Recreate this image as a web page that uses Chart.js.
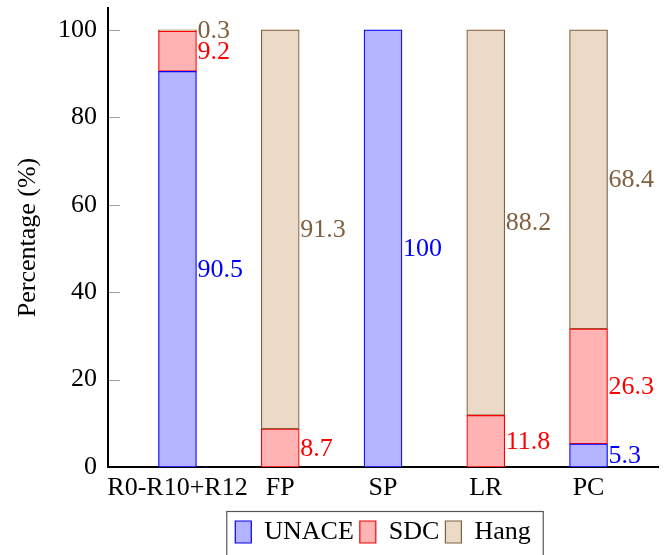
<!DOCTYPE html>
<html>
<head>
<meta charset="utf-8">
<script src="https://cdn.jsdelivr.net/npm/chart.js@4"></script>
<style>
html,body{margin:0;padding:0;background:#fff;}
#wrap{width:672px;height:555px;}
</style>
</head>
<body>
<div id="wrap"><canvas id="c" width="672" height="555"></canvas></div>
<script>
const categories = ["R0-R10+R12", "FP", "SP", "LR", "PC"];
const unace = [90.5, 0, 100, 0, 5.3];
const sdc = [9.2, 8.7, 0, 11.8, 26.3];
const hang = [0.3, 91.3, 0, 88.2, 68.4];
const yTicks = [0, 20, 40, 60, 80, 100];

const FONT = "'Liberation Serif', 'Times New Roman', serif";
const FS = 26;

function pts(arr){ return arr.map((v,i)=>({x:i, y: v===0 ? null : v})); }

const series = [
  {label:"UNACE", data:unace, fill:"#b3b3ff", stroke:"#0000ff", text:"#0000ff"},
  {label:"SDC", data:sdc, fill:"#ffb3b3", stroke:"#ff0000", text:"#ff0000"},
  {label:"Hang", data:hang, fill:"#ebdac7", stroke:"#80603f", text:"#80603f"}
];

const valueLabels = {
  id:'valueLabels',
  afterDatasetsDraw(chart){
    const ctx = chart.ctx;
    ctx.save();
    ctx.font = FS + "px " + FONT;
    ctx.textAlign = 'left';
    ctx.textBaseline = 'middle';
    chart.data.datasets.forEach((ds, di)=>{
      const meta = chart.getDatasetMeta(di);
      meta.data.forEach((el, i)=>{
        const v = series[di].data[i];
        if (!v) return;
        ctx.fillStyle = series[di].text;
        ctx.fillText(String(v), el.x + el.width/2 + 1, (el.y + el.base)/2 + 1);
      });
    });
    ctx.restore();
  }
};

const innerTicks = {
  id:'innerTicks',
  afterDraw(chart){
    const ctx = chart.ctx, y = chart.scales.y, a = chart.chartArea;
    ctx.save();
    ctx.strokeStyle = '#a0a0a0';
    ctx.lineWidth = 1;
    yTicks.forEach(t=>{
      const py = Math.round(y.getPixelForValue(t)) + 0.5;
      if (t === 0) return;
      ctx.beginPath(); ctx.moveTo(a.left+1, py); ctx.lineTo(a.left+12, py); ctx.stroke();
    });
    const lg = chart.legend;
    if (lg && lg.legendHitBoxes && lg.legendHitBoxes.length){
      const hb = lg.legendHitBoxes;
      const l = Math.min(...hb.map(h=>h.left)) - 9;
      const r = Math.max(...hb.map(h=>h.left + h.width)) + 12;
      const t = Math.min(...hb.map(h=>h.top)) - 8;
      ctx.strokeStyle = '#555';
      ctx.lineWidth = 1.2;
      ctx.strokeRect(l + 0.5, t + 0.5, r - l, 80);
    }
    ctx.restore();
  }
};

new Chart(document.getElementById('c'), {
  type:'bar',
  data:{
    datasets: series.map(s=>({
      label:s.label,
      data:pts(s.data),
      backgroundColor:s.fill,
      borderColor:s.stroke,
      borderWidth:1.2,
      borderSkipped:false,
      barThickness:38
    }))
  },
  options:{
    responsive:false,
    animation:false,
    devicePixelRatio:1,
    layout:{padding:{left:0, right:14, top:8, bottom:0}},
    scales:{
      x:{
        type:'linear', stacked:true, min:-0.676, max:4.676, offset:false,
        afterBuildTicks(s){ s.ticks = categories.map((_, i)=>({value:i})); },
        afterFit(s){ s.height = 46; s.paddingLeft = 0; s.paddingRight = 0; },
        grid:{display:false, drawTicks:false},
        border:{display:true, color:'#000', width:2},
        ticks:{autoSkip:false, maxRotation:0, padding:6, color:'#000',
          font:{family:FONT, size:FS},
          callback:(v)=>categories[v] ?? ''}
      },
      y:{
        stacked:true, min:0, max:105,
        afterBuildTicks(s){ s.ticks = yTicks.map(v=>({value:v})); },
        afterFit(s){ s.width = 108; s.paddingTop = 0; s.paddingBottom = 0; },
        grid:{display:false, drawTicks:false},
        border:{display:true, color:'#000', width:2},
        ticks:{padding:11, color:'#000', font:{family:FONT, size:FS}},
        title:{display:true, text:'Percentage (%)', color:'#000',
          font:{family:FONT, size:FS}, padding:{top:13, bottom:0}}
      }
    },
    plugins:{
      legend:{
        position:'bottom', fullSize:false,
        labels:{color:'#000', font:{family:FONT, size:FS}, boxWidth:16, boxHeight:22, padding:6,
          generateLabels(chart){
            return series.map((s,i)=>({text:s.label, fillStyle:s.fill, strokeStyle:s.stroke, lineWidth:1.2, datasetIndex:i, hidden:false}));
          }}
      },
      tooltip:{enabled:false}
    }
  },
  plugins:[valueLabels, innerTicks]
});
</script>
</body>
</html>
